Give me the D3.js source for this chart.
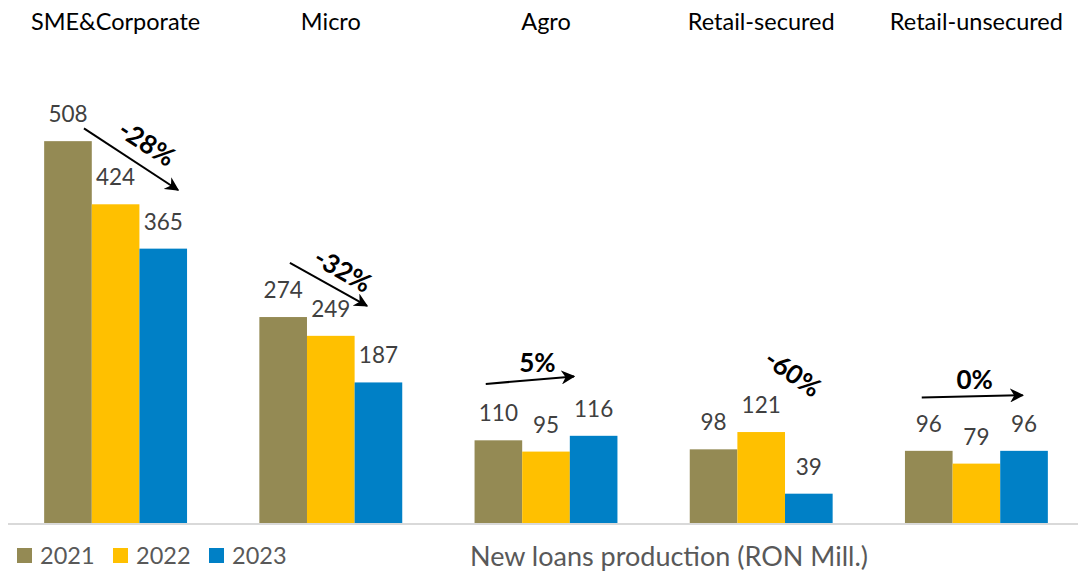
<!DOCTYPE html>
<html>
<head>
<meta charset="utf-8">
<script src="https://cdn.jsdelivr.net/npm/d3@7"></script>
<style>
  body { margin: 0; background: #fff; }
  svg { display: block; font-family: Lato, "Open Sans", sans-serif; }
</style>
</head>
<body>
<svg width="1078" height="571"></svg>
<script>
// data
const categories = ["SME&Corporate", "Micro", "Agro", "Retail-secured", "Retail-unsecured"];
const years = ["2021", "2022", "2023"];
const values2021 = [508, 274, 110, 98, 96];
const values2022 = [424, 249, 95, 121, 79];
const values2023 = [365, 187, 116, 39, 96];
const seriesColors = ["#948A54", "#FFC000", "#0080C6"];
const title = "New loans production (RON Mill.)";

// change arrows (annotation), in band-fraction / value units
const arrowStart = [[0.353, 525], [0.31, 346], [0.22, 185], null, [0.246, 167]];
const arrowEnd = [[0.79, 443], [0.668, 289], [0.63, 195], null, [0.715, 170]];
const labelPos = [[0.645, 505], [0.556, 336], [0.46, 213], [0.647, 199], [0.492, 190]];
const labelAngle = [33, 30, 0, 35, 0];

const series = [values2021, values2022, values2023];

let svg = d3.select("svg"),
  width = 1078,
  height = 571;

const baseY = 523;

let x0 = d3.scaleBand().domain(categories).range([8, 1084]);
let bw = x0.bandwidth();
let x1 = d3.scaleBand().domain(years).range([bw * 0.168, bw * 0.832]);
let y = d3.scaleLinear().domain([0, 600]).range([baseY, 72]);

// bars
const groups = svg
  .selectAll(".grp")
  .data(categories)
  .enter()
  .append("g")
  .attr("class", "grp")
  .attr("transform", (d) => `translate(${x0(d)},0)`);

groups
  .selectAll("rect")
  .data((d, i) => years.map((yr, j) => ({ yr, j, v: series[j][i] })))
  .enter()
  .append("rect")
  .attr("x", (d) => x1(d.yr))
  .attr("width", x1.bandwidth())
  .attr("y", (d) => y(d.v))
  .attr("height", (d) => y(0) - y(d.v))
  .attr("fill", (d) => seriesColors[d.j]);

// value labels
groups
  .selectAll(".val")
  .data((d, i) => years.map((yr, j) => ({ yr, j, v: series[j][i] })))
  .enter()
  .append("text")
  .attr("class", "val")
  .attr("x", (d) => x1(d.yr) + x1.bandwidth() / 2)
  .attr("y", (d) => y(d.v) - 19)
  .attr("text-anchor", "middle")
  .attr("font-size", 22.5)
  .attr("fill", "#404040")
  .text((d) => d.v);

// axis line
svg
  .append("line")
  .attr("x1", 8)
  .attr("x2", width)
  .attr("y1", baseY + 1)
  .attr("y2", baseY + 1)
  .attr("stroke", "#d9d9d9")
  .attr("stroke-width", 2);

// category labels on top
svg
  .selectAll(".cat")
  .data(categories)
  .enter()
  .append("text")
  .attr("class", "cat")
  .attr("x", (d) => x0(d) + bw / 2)
  .attr("y", 30)
  .attr("text-anchor", "middle")
  .attr("font-size", 23.5)
  .attr("fill", "#000")
  .text((d) => d);

// arrows
svg
  .append("defs")
  .append("marker")
  .attr("id", "arrowhead")
  .attr("viewBox", "0 0 10 10")
  .attr("refX", 9)
  .attr("refY", 5)
  .attr("markerWidth", 7)
  .attr("markerHeight", 7)
  .attr("markerUnits", "strokeWidth")
  .attr("orient", "auto")
  .append("path")
  .attr("d", "M 0 0 L 10 5 L 0 10 L 3 5 Z")
  .attr("fill", "#000");

const pct = categories.map((c, i) =>
  Math.round((values2023[i] / values2021[i] - 1) * 100) + "%"
);

categories.forEach((c, i) => {
  const px = (f) => x0(c) + bw * f;
  if (arrowStart[i]) {
    svg
      .append("line")
      .attr("x1", px(arrowStart[i][0]))
      .attr("y1", y(arrowStart[i][1]))
      .attr("x2", px(arrowEnd[i][0]))
      .attr("y2", y(arrowEnd[i][1]))
      .attr("stroke", "#000")
      .attr("stroke-width", 2)
      .attr("marker-end", "url(#arrowhead)");
  }
  const lx = px(labelPos[i][0]),
    ly = y(labelPos[i][1]);
  svg
    .append("text")
    .attr("transform", `translate(${lx},${ly}) rotate(${labelAngle[i]})`)
    .attr("text-anchor", "middle")
    .attr("dy", "0.35em")
    .attr("font-size", 26)
    .attr("font-weight", "bold")
    .attr("fill", "#000")
    .text(pct[i]);
});

// legend
const legend = svg
  .selectAll(".leg")
  .data(years)
  .enter()
  .append("g")
  .attr("class", "leg")
  .attr("transform", (d, i) => `translate(${17 + i * 96},548)`);

legend
  .append("rect")
  .attr("width", 15)
  .attr("height", 15)
  .attr("fill", (d, i) => seriesColors[i]);

legend
  .append("text")
  .attr("x", 23)
  .attr("y", 15.5)
  .attr("font-size", 23.5)
  .attr("fill", "#595959")
  .text((d) => d);

// title
svg
  .append("text")
  .attr("x", 669)
  .attr("y", 566)
  .attr("text-anchor", "middle")
  .attr("font-size", 27)
  .attr("fill", "#595959")
  .text(title);
</script>
</body>
</html>
